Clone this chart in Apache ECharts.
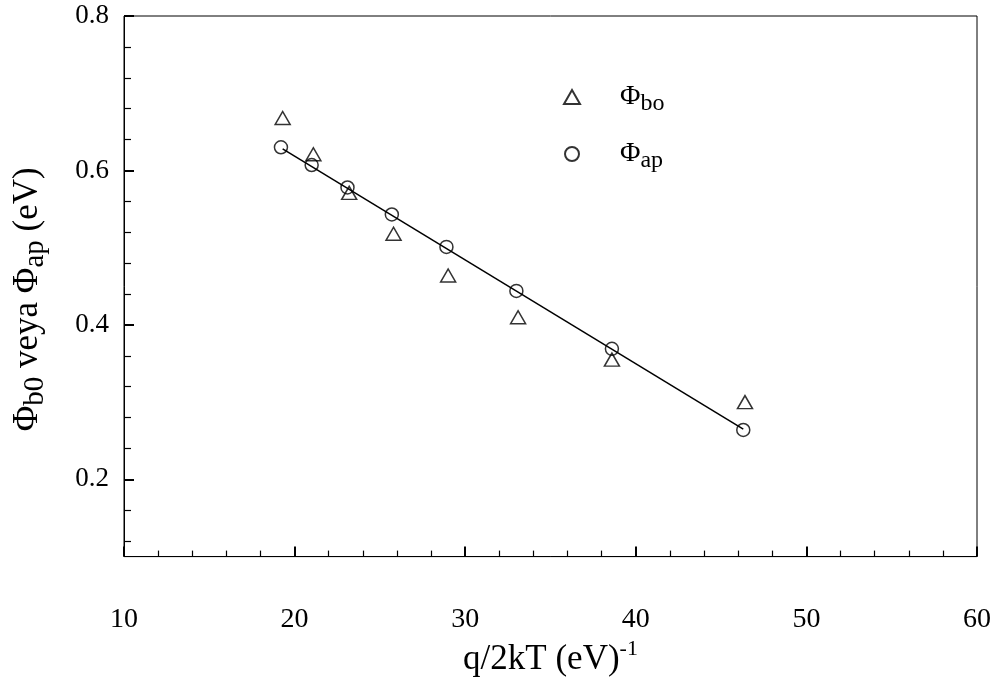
<!DOCTYPE html>
<html>
<head>
<meta charset="utf-8">
<script src="https://cdn.jsdelivr.net/npm/echarts@6/dist/echarts.min.js"></script>
<style>
  html, body { margin: 0; padding: 0; background: #fff; }
  #chart { width: 998px; height: 682px; }
</style>
</head>
<body>
<div id="chart"></div>
<script>
// data
var xPhiBo = [19.3, 21.1, 23.2, 25.8, 29.0, 33.1, 38.6, 46.4];
var yPhiBo = [0.668, 0.621, 0.571, 0.518, 0.464, 0.410, 0.355, 0.300];
var xPhiAp = [19.2, 21.0, 23.1, 25.7, 28.9, 33.0, 38.6, 46.3];
var yPhiAp = [0.630, 0.607, 0.578, 0.543, 0.501, 0.444, 0.369, 0.264];
// fitted line end points
var xFit = [19.3, 46.3];
var yFit = [0.628, 0.265];
// tick values
var yMajorTicks = [0.2, 0.4, 0.6, 0.8];
var yMinorTicks = [0.12, 0.16, 0.24, 0.28, 0.32, 0.36, 0.44, 0.48, 0.52, 0.56, 0.64, 0.68, 0.72, 0.76];

var FONT = "'Liberation Serif', 'Times New Roman', serif";

function pairs(xs, ys) {
  return xs.map(function (x, i) { return [x, ys[i]]; });
}

var hollow = {
  color: 'rgba(0,0,0,0)',
  borderColor: '#000',
  borderWidth: 1.5
};

var chart = echarts.init(document.getElementById('chart'), null, { renderer: 'canvas' });

var option = {
  backgroundColor: '#fff',
  animation: false,
  grid: {
    left: 124,
    right: 21,
    top: 16,
    bottom: 123,
    show: true,
    borderColor: '#000',
    borderWidth: 1
  },
  legend: {
    orient: 'vertical',
    left: 558,
    top: 78,
    itemWidth: 16,
    itemHeight: 14,
    itemGap: 24,
    data: ['bo', 'ap'],
    formatter: function (name) {
      return '{p|Φ}{s|' + name + '}';
    },
    textStyle: {
      fontFamily: FONT,
      color: '#000',
      rich: {
        p: { fontFamily: FONT, fontSize: 28, color: '#000', padding: [0, 0, 0, 35] },
        s: { fontFamily: FONT, fontSize: 24, color: '#000', padding: [14, 0, 0, 0] }
      }
    }
  },
  xAxis: {
    type: 'value',
    min: 10,
    max: 60,
    interval: 10,
    name: '{t|q/2kT (eV)}{u|-1}',
    nameLocation: 'middle',
    nameGap: 78,
    nameTextStyle: {
      rich: {
        t: { fontFamily: FONT, fontSize: 35, color: '#000' },
        u: { fontFamily: FONT, fontSize: 22, color: '#000', padding: [0, 0, 20, 0] }
      }
    },
    axisLine: { onZero: false, lineStyle: { color: '#000', width: 1 } },
    axisTick: { inside: true, length: 10, lineStyle: { color: '#000', width: 2 } },
    minorTick: { show: true, splitNumber: 5, length: 6, lineStyle: { color: '#000', width: 1.2 } },
    axisLabel: { margin: 49, fontFamily: FONT, fontSize: 28, color: '#000' },
    splitLine: { show: false }
  },
  yAxis: [{
    type: 'value',
    min: 0.1,
    max: 0.8,
    position: 'left',
    name: '{p|Φ}{s|b0}{p| veya Φ}{s|ap}{p| (eV)}',
    nameLocation: 'middle',
    nameRotate: 90,
    nameGap: 74,
    nameTextStyle: {
      padding: [0, 26, 0, 0],
      rich: {
        p: { fontFamily: FONT, fontSize: 35, color: '#000' },
        s: { fontFamily: FONT, fontSize: 29, color: '#000', padding: [16, 0, 0, 0] }
      }
    },
    axisLine: { onZero: false, lineStyle: { color: '#000', width: 1 } },
    axisTick: { inside: true, length: 10, customValues: yMajorTicks, lineStyle: { color: '#000', width: 2 } },
    axisLabel: {
      margin: 15,
      customValues: yMajorTicks,
      formatter: function (v) { return v.toFixed(1); },
      fontFamily: FONT, fontSize: 27, color: '#000'
    },
    splitLine: { show: false }
  }, {
    type: 'value',
    min: 0.1,
    max: 0.8,
    position: 'left',
    offset: 0,
    axisLine: { show: false },
    axisTick: { inside: true, length: 7, customValues: yMinorTicks, lineStyle: { color: '#000', width: 1.2 } },
    axisLabel: { show: false, customValues: yMinorTicks },
    splitLine: { show: false }
  }],
  series: [{
    name: 'bo',
    type: 'scatter',
    symbol: 'triangle',
    symbolSize: [15, 13],
    itemStyle: hollow,
    data: pairs(xPhiBo, yPhiBo),
    z: 3
  }, {
    name: 'ap',
    type: 'scatter',
    symbol: 'circle',
    symbolSize: 13,
    itemStyle: hollow,
    data: pairs(xPhiAp, yPhiAp),
    z: 3
  }, {
    name: 'fit',
    type: 'line',
    showSymbol: false,
    silent: true,
    lineStyle: { color: '#000', width: 1.5 },
    data: pairs(xFit, yFit),
    z: 2
  }]
};

chart.setOption(option);
</script>
</body>
</html>
